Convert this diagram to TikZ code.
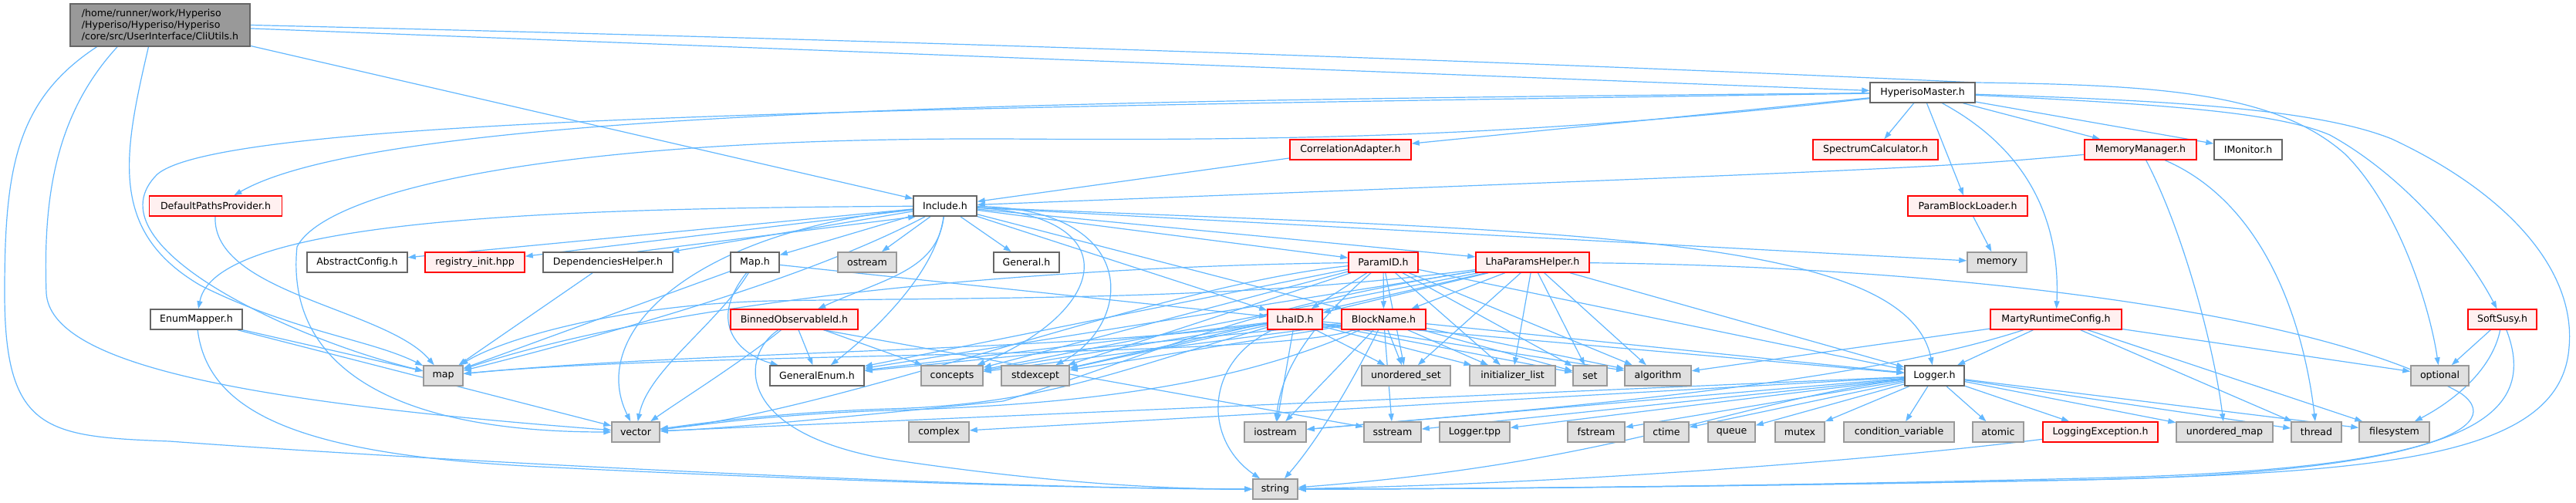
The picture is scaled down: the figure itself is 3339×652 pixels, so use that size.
\documentclass[tikz,border=0pt]{standalone}
\usepackage{fontspec}
\setmainfont{DejaVu Sans}
\usepackage{tikz}
\usetikzlibrary{arrows.meta,backgrounds}

\definecolor{edgeblue}{HTML}{63B8FF}
\definecolor{sysfill}{HTML}{E0E0E0}
\definecolor{sysline}{HTML}{999999}
\definecolor{docline}{HTML}{666666}
\definecolor{redfill}{HTML}{FFF0F0}
\definecolor{mainfill}{HTML}{999999}

\begin{document}
\begin{tikzpicture}[x=1pt, y=-1pt,
    box/.style={draw, line width=1.5pt, minimum height=26pt, inner sep=0pt,
                font=\fontsize{12.6}{15}\selectfont},
    sysbox/.style={box, fill=sysfill, draw=sysline},
    docbox/.style={box, fill=white, draw=docline},
    redbox/.style={box, fill=redfill, draw=red},
    mainbox/.style={box, fill=mainfill, draw=docline},
    arr/.style={edgeblue, line width=1.2pt, -{Triangle[length=10pt,width=7pt]}}]

    \useasboundingbox (0,0) rectangle (3339,652);

    % top levels
    \node[mainbox, minimum width=233pt, minimum height=55pt, align=left] (cli) at (207.5,32.5)
        {/home/runner/work/Hyperiso\\/Hyperiso/Hyperiso/Hyperiso\\/core/src/UserInterface/CliUtils.h};
    \node[docbox, minimum width=136pt] (hm) at (2492,120) {HyperisoMaster.h};

    \node[redbox, minimum width=157pt] (corr) at (1750.5,194) {CorrelationAdapter.h};
    \node[redbox, minimum width=162pt] (spec) at (2431,194) {SpectrumCalculator.h};
    \node[redbox, minimum width=145pt] (mem) at (2774.5,194) {MemoryManager.h};
    \node[docbox, minimum width=88pt] (imon) at (2914,194) {IMonitor.h};

    \node[redbox, minimum width=172pt] (dpp) at (279.5,267) {DefaultPathsProvider.h};
    \node[docbox, minimum width=82pt] (inc) at (1225,267) {Include.h};
    \node[redbox, minimum width=155pt] (pbl) at (2550.5,267) {ParamBlockLoader.h};

    \node[docbox, minimum width=130pt] (abs) at (463,340) {AbstractConfig.h};
    \node[redbox, minimum width=129pt] (reg) at (615.5,340) {registry\_init.hpp};
    \node[docbox, minimum width=168pt] (deph) at (788,340) {DependenciesHelper.h};
    \node[docbox, minimum width=63pt] (maph) at (978.5,340) {Map.h};
    \node[sysbox, minimum width=76pt] (ostream) at (1124,340) {ostream};
    \node[docbox, minimum width=85pt] (gen) at (1330.5,340) {General.h};
    \node[redbox, minimum width=90pt] (pid) at (1793,340) {ParamID.h};
    \node[redbox, minimum width=147pt] (lph) at (1986.5,340) {LhaParamsHelper.h};
    \node[sysbox, minimum width=77pt] (memory) at (2588.5,340) {memory};

    \node[docbox, minimum width=119pt] (emap) at (254.5,414) {EnumMapper.h};
    \node[redbox, minimum width=165pt] (bobs) at (1029.5,414) {BinnedObservableId.h};
    \node[redbox, minimum width=71pt] (lid) at (1678.5,414) {LhaID.h};
    \node[redbox, minimum width=109pt] (bname) at (1793.5,414) {BlockName.h};
    \node[redbox, minimum width=170pt] (marty) at (2665,414) {MartyRuntimeConfig.h};
    \node[redbox, minimum width=89pt] (susy) at (3243.5,414) {SoftSusy.h};

    \node[sysbox, minimum width=51pt] (map) at (574.5,487) {map};
    \node[docbox, minimum width=122pt] (genum) at (1059,487) {GeneralEnum.h};
    \node[sysbox, minimum width=80pt] (concepts) at (1234,487) {concepts};
    \node[sysbox, minimum width=88pt] (stdexcept) at (1342,487) {stdexcept};
    \node[sysbox, minimum width=115pt] (uset) at (1822.5,487) {unordered\_set};
    \node[sysbox, minimum width=111pt] (initl) at (1960.5,487) {initializer\_list};
    \node[sysbox, minimum width=44pt] (set) at (2061,487) {set};
    \node[sysbox, minimum width=86pt] (algo) at (2149,487) {algorithm};
    \node[docbox, minimum width=77pt] (logger) at (2507.5,487) {Logger.h};
    \node[sysbox, minimum width=75pt] (optional) at (3162.5,487) {optional};

    \node[sysbox, minimum width=62pt] (vector) at (824,560) {vector};
    \node[sysbox, minimum width=78pt] (complex) at (1217,560) {complex};
    \node[sysbox, minimum width=80pt] (iostream) at (1653,560) {iostream};
    \node[sysbox, minimum width=74pt] (sstream) at (1805,560) {sstream};
    \node[sysbox, minimum width=91pt] (ltpp) at (1911.5,560) {Logger.tpp};
    \node[sysbox, minimum width=74pt] (fstream) at (2069,560) {fstream};
    \node[sysbox, minimum width=58pt] (ctime) at (2160,560) {ctime};
    \node[sysbox, minimum width=61pt] (queue) at (2244.5,560) {queue};
    \node[sysbox, minimum width=64pt] (mutex) at (2333,560) {mutex};
    \node[sysbox, minimum width=143pt] (condvar) at (2461.5,560) {condition\_variable};
    \node[sysbox, minimum width=66pt] (atomic) at (2590,560) {atomic};
    \node[redbox, minimum width=149pt] (logexc) at (2722.5,560) {LoggingException.h};
    \node[sysbox, minimum width=125pt] (umap) at (2883.5,560) {unordered\_map};
    \node[sysbox, minimum width=65pt] (thread) at (3002.5,560) {thread};
    \node[sysbox, minimum width=91pt] (fs) at (3103.5,560) {filesystem};

    \node[sysbox, minimum width=58pt] (string) at (1653,634) {string};

    \begin{scope}[on background layer]
    \fill[white] (0,0) rectangle (3339,652);

    % CliUtils.h
    \draw[arr] (cli) -- (hm);
    \draw[arr] (cli) -- (inc);
    \draw[arr] (cli.east) .. controls (1500,60) and (2300,95) .. (2560,107)
        .. controls (2800,110) and (2950,120) .. (3040,200) .. controls (3110,270) and (3150,400) .. (optional);
    \draw[arr] (cli.199) .. controls (20,130) and (6,220) .. (6,380)
        .. controls (6,560) and (60,566) .. (220,572) .. controls (600,600) and (1300,634) .. (string);
    \draw[arr] (cli.207) .. controls (70,150) and (56,260) .. (60,380)
        .. controls (66,470) and (300,520) .. (vector);
    \draw[arr] (cli.242) .. controls (160,200) and (140,300) .. (260,370)
        .. controls (380,430) and (480,440) .. (map);

    % HyperisoMaster.h
    \foreach \t in {corr,spec,mem,imon,pbl}
        \draw[arr] (hm) -- (\t);
    \draw[arr] (hm) .. controls (2640,200) and (2670,300) .. (marty);
    \draw[arr] (hm) .. controls (2800,135) and (2950,145) .. (3020,175)
        .. controls (3120,230) and (3200,330) .. (susy);
    \draw[arr] (hm) .. controls (2800,130) and (3000,140) .. (3100,180)
        .. controls (3250,250) and (3339,350) .. (3330,450)
        .. controls (3320,590) and (3100,612) .. (2700,622) .. controls (2300,630) and (1900,634) .. (string);
    \draw[arr] (hm) .. controls (1400,130) and (500,140) .. (dpp);
    \draw[arr] (hm) .. controls (1200,140) and (260,150) .. (200,230)
        .. controls (120,320) and (380,440) .. (map);
    \draw[arr] (hm) .. controls (2000,175) and (1700,183) .. (1300,180)
        .. controls (700,178) and (420,250) .. (385,320) .. controls (370,470) and (500,560) .. (vector);

    % second level
    \draw[arr] (corr) -- (inc);
    \draw[arr] (mem) .. controls (2500,218) .. (inc);
    \draw[arr] (mem) .. controls (2830,300) and (2870,450) .. (umap);
    \draw[arr] (mem) .. controls (2950,270) and (2990,450) .. (thread);
    \draw[arr] (pbl) -- (memory);
    \draw[arr] (dpp) .. controls (275,380) and (500,400) .. (map);

    % Include.h
    \foreach \t in {abs,reg,deph,maph,ostream,gen,pid,lph,lid,bname,memory}
        \draw[arr] (inc) -- (\t);
    \draw[arr] (deph.20) -- (inc.200);
    \draw[arr] (inc) .. controls (750,270) and (280,280) .. (emap);
    \draw[arr] (inc) .. controls (1215,350) and (1150,360) .. (bobs);
    \draw[arr] (inc) .. controls (1212,360) and (1120,440) .. (genum);
    \draw[arr] (inc) .. controls (1460,280) and (1440,400) .. (concepts);
    \draw[arr] (inc) .. controls (1480,270) and (1470,420) .. (stdexcept);
    \draw[arr] (inc) .. controls (2000,300) and (2470,300) .. (logger);
    \draw[arr] (inc) .. controls (1050,360) and (800,430) .. (map);
    \draw[arr] (inc) .. controls (900,300) and (760,430) .. (vector);

    % Map.h, EnumMapper.h, DependenciesHelper.h
    \draw[arr] (maph) -- (map);
    \draw[arr] (maph) -- (lid);
    \draw[arr] (maph) .. controls (930,420) and (840,480) .. (vector);
    \draw[arr] (maph) .. controls (915,420) and (960,460) .. (genum);
    \draw[arr] (emap) -- (map);
    \draw[arr] (emap) -- (vector);
    \draw[arr] (emap) .. controls (270,540) and (400,590) .. (700,605)
        .. controls (1100,625) and (1450,634) .. (string);
    \draw[arr] (deph) -- (map);

    % BinnedObservableId.h
    \draw[arr] (bobs) -- (genum);
    \draw[arr] (bobs) -- (concepts);
    \draw[arr] (bobs.-20) -- (sstream);
    \draw[arr] (bobs) .. controls (960,470) and (880,520) .. (vector);
    \draw[arr] (bobs) .. controls (960,460) and (950,560) .. (1150,595)
        .. controls (1350,625) and (1500,634) .. (string);

    % ParamID.h
    \foreach \t in {lid,bname,genum,concepts,stdexcept,uset,initl,set,algo,logger}
        \draw[arr] (pid) -- (\t);
    \draw[arr] (pid) .. controls (1400,345) and (900,380) .. (map);
    \draw[arr] (pid) .. controls (1500,370) and (1100,530) .. (vector);
    \draw[arr] (pid) .. controls (1700,420) and (1660,480) .. (iostream);

    % LhaParamsHelper.h
    \foreach \t in {lid,bname,genum,concepts,stdexcept,uset,initl,set,algo,logger}
        \draw[arr] (lph) -- (\t);
    \draw[arr] (lph) .. controls (1600,390) and (1300,385) .. (1000,390)
        .. controls (800,395) and (650,440) .. (map);
    \draw[arr] (lph) .. controls (1600,400) and (1500,460) .. (1300,520)
        .. controls (1100,540) and (950,555) .. (vector);
    \draw[arr] (lph) .. controls (2500,345) and (3000,400) .. (3190,510)
        .. controls (3260,560) and (3100,615) .. (2700,622) .. controls (2300,630) and (1900,634) .. (string);

    % LhaID.h
    \foreach \t in {genum,concepts,stdexcept,iostream,uset,initl,set,algo,logger}
        \draw[arr] (lid) -- (\t);
    \draw[arr] (lid) .. controls (1400,455) and (900,455) .. (map);
    \draw[arr] (lid) .. controls (1450,480) and (1350,525) .. (1150,530)
        .. controls (1000,535) and (900,550) .. (vector);
    \draw[arr] (lid) .. controls (1560,470) and (1560,570) .. (string);

    % BlockName.h
    \foreach \t in {genum,concepts,stdexcept,iostream,sstream,uset,initl,set,algo,logger}
        \draw[arr] (bname) -- (\t);
    \draw[arr] (bname) .. controls (1650,465) and (900,455) .. (map);
    \draw[arr] (bname) .. controls (1600,500) and (1400,525) .. (1150,532)
        .. controls (1000,537) and (900,552) .. (vector);
    \draw[arr] (bname) .. controls (1740,520) and (1700,580) .. (string);

    % Logger.h
    \foreach \t in {complex,vector,iostream,sstream,ltpp,fstream,ctime,queue,mutex,condvar,atomic,logexc,umap,thread,fs}
        \draw[arr] (logger) -- (\t);
    \draw[arr] (logger) .. controls (2250,520) and (2100,600) .. (string);
    \draw[arr] (logexc) .. controls (2400,600) and (2000,628) .. (string);

    % MartyRuntimeConfig.h, SoftSusy.h
    \foreach \t in {logger,algo,optional,fs,thread}
        \draw[arr] (marty) -- (\t);
    \draw[arr] (marty) .. controls (2400,500) and (2000,530) .. (iostream);
    \draw[arr] (susy) -- (optional);
    \draw[arr] (susy) .. controls (3230,480) and (3180,520) .. (fs);
    \draw[arr] (susy) .. controls (3300,560) and (3150,610) .. (2700,620)
        .. controls (2300,630) and (1900,634) .. (string);
    \end{scope}
\end{tikzpicture}
\end{document}
